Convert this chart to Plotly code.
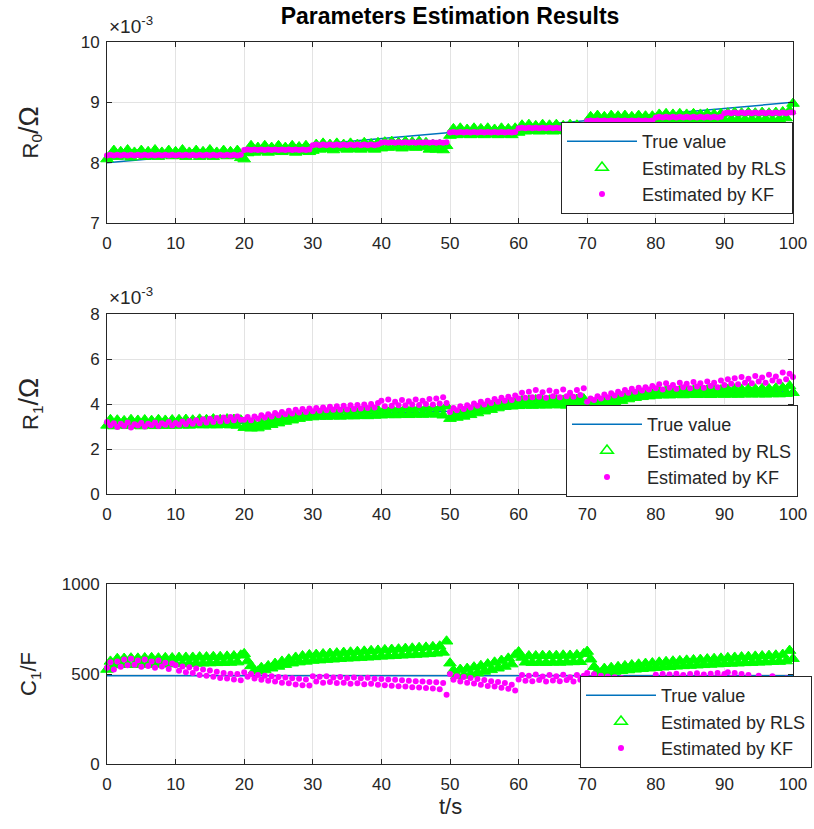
import numpy as np
import plotly.graph_objects as go

DT = 0.5  # estimator output period, s

# ---------------- true parameters (breakpoints) ----------------
r0_true_t = [0, 100]
r0_true = [8.0, 9.0]                      # x1e-3 Ohm
r1_true_t = [0, 20, 22, 30, 50, 58, 70, 80, 100]
r1_true = [3.15, 3.15, 3.05, 3.5, 3.68, 4.0, 4.05, 4.48, 4.55]   # x1e-3 Ohm
c1_true_t = [0, 100]
c1_true = [490, 490]                      # F

# ---------------- R0 estimates (x1e-3 Ohm), one value every 0.5 s ----------------
r0_rls = [
    8.06, 8.12, 8.20, 8.10, 8.18, 8.12, 8.21, 8.09, 8.17, 8.13, 8.20, 8.10, 8.18, 8.12, 8.21, 8.10, 8.17, 8.13, 8.20, 8.11,
    8.18, 8.12, 8.21, 8.10, 8.17, 8.13, 8.20, 8.10, 8.18, 8.12, 8.21, 8.10, 8.17, 8.13, 8.20, 8.11, 8.18, 8.12, 8.20, 8.08,
    8.06, 8.16, 8.28, 8.17, 8.25, 8.19, 8.28, 8.17, 8.25, 8.19, 8.28, 8.18, 8.25, 8.20, 8.28, 8.17, 8.26, 8.19, 8.28, 8.18,
    8.20, 8.30, 8.22, 8.32, 8.23, 8.30, 8.21, 8.32, 8.24, 8.30, 8.22, 8.32, 8.23, 8.30, 8.22, 8.33, 8.24, 8.31, 8.22, 8.33,
    8.24, 8.34, 8.25, 8.35, 8.26, 8.33, 8.24, 8.35, 8.26, 8.34, 8.25, 8.35, 8.26, 8.33, 8.22, 8.30, 8.22, 8.30, 8.21, 8.28,
    8.45, 8.56, 8.46, 8.57, 8.47, 8.55, 8.46, 8.57, 8.47, 8.56, 8.46, 8.57, 8.48, 8.55, 8.46, 8.57, 8.47, 8.56, 8.46, 8.57,
    8.50, 8.62, 8.52, 8.63, 8.53, 8.61, 8.52, 8.63, 8.53, 8.62, 8.52, 8.63, 8.53, 8.61, 8.52, 8.63, 8.53, 8.62, 8.48, 8.55,
    8.64, 8.76, 8.66, 8.78, 8.67, 8.76, 8.66, 8.78, 8.67, 8.77, 8.66, 8.78, 8.67, 8.76, 8.66, 8.78, 8.67, 8.77, 8.65, 8.77,
    8.68, 8.80, 8.70, 8.81, 8.71, 8.80, 8.70, 8.81, 8.71, 8.80, 8.70, 8.81, 8.71, 8.80, 8.70, 8.81, 8.71, 8.80, 8.70, 8.81,
    8.71, 8.82, 8.72, 8.83, 8.72, 8.82, 8.71, 8.83, 8.72, 8.82, 8.71, 8.83, 8.72, 8.82, 8.71, 8.83, 8.72, 8.84, 8.74, 8.86,
    8.98,
]
r0_kf = [
    8.12, 8.13, 8.12, 8.13, 8.12, 8.13, 8.12, 8.13, 8.12, 8.13, 8.12, 8.13, 8.12, 8.13, 8.12, 8.13, 8.12, 8.13, 8.12, 8.13,
    8.12, 8.13, 8.12, 8.13, 8.12, 8.13, 8.12, 8.13, 8.12, 8.13, 8.12, 8.13, 8.12, 8.13, 8.12, 8.13, 8.12, 8.13, 8.12, 8.13,
    8.21, 8.22, 8.21, 8.22, 8.21, 8.22, 8.21, 8.22, 8.21, 8.22, 8.21, 8.22, 8.21, 8.22, 8.21, 8.22, 8.21, 8.22, 8.21, 8.22,
    8.29, 8.30, 8.29, 8.30, 8.29, 8.30, 8.29, 8.30, 8.29, 8.30, 8.29, 8.30, 8.29, 8.30, 8.29, 8.30, 8.29, 8.30, 8.29, 8.30,
    8.33, 8.34, 8.33, 8.34, 8.33, 8.34, 8.33, 8.34, 8.33, 8.34, 8.33, 8.34, 8.33, 8.34, 8.33, 8.34, 8.33, 8.34, 8.33, 8.34,
    8.50, 8.51, 8.50, 8.51, 8.50, 8.51, 8.50, 8.51, 8.50, 8.51, 8.50, 8.51, 8.50, 8.51, 8.50, 8.51, 8.50, 8.51, 8.50, 8.51,
    8.57, 8.58, 8.57, 8.58, 8.57, 8.58, 8.57, 8.58, 8.57, 8.58, 8.57, 8.58, 8.57, 8.58, 8.57, 8.58, 8.57, 8.58, 8.57, 8.58,
    8.69, 8.70, 8.69, 8.70, 8.69, 8.70, 8.69, 8.70, 8.69, 8.70, 8.69, 8.70, 8.69, 8.70, 8.69, 8.70, 8.69, 8.70, 8.69, 8.70,
    8.75, 8.76, 8.75, 8.76, 8.75, 8.76, 8.75, 8.76, 8.75, 8.76, 8.75, 8.76, 8.75, 8.76, 8.75, 8.76, 8.75, 8.76, 8.75, 8.76,
    8.82, 8.83, 8.82, 8.83, 8.82, 8.83, 8.82, 8.83, 8.82, 8.83, 8.82, 8.83, 8.82, 8.83, 8.82, 8.83, 8.82, 8.83, 8.82, 8.83,
    8.83,
]

# ---------------- R1 estimates (x1e-3 Ohm) ----------------
r1_rls = [
    3.05, 3.30, 3.02, 3.28, 3.06, 3.25, 3.03, 3.30, 3.05, 3.27, 3.02, 3.29, 3.06, 3.26, 3.03, 3.30, 3.05, 3.27, 3.04, 3.29,
    3.05, 3.30, 3.06, 3.31, 3.05, 3.28, 3.08, 3.32, 3.06, 3.30, 3.07, 3.33, 3.06, 3.30, 3.08, 3.33, 3.06, 3.31, 3.05, 3.28,
    2.95, 3.12, 2.92, 3.08, 2.93, 3.15, 3.00, 3.22, 3.08, 3.30, 3.15, 3.38, 3.22, 3.45, 3.28, 3.50, 3.35, 3.55, 3.40, 3.60,
    3.42, 3.66, 3.45, 3.68, 3.44, 3.70, 3.46, 3.68, 3.45, 3.72, 3.47, 3.70, 3.46, 3.73, 3.48, 3.70, 3.47, 3.74, 3.49, 3.72,
    3.50, 3.75, 3.52, 3.78, 3.51, 3.76, 3.53, 3.80, 3.52, 3.78, 3.54, 3.82, 3.53, 3.80, 3.55, 3.84, 3.54, 3.82, 3.50, 3.90,
    3.35, 3.55, 3.40, 3.62, 3.45, 3.68, 3.52, 3.76, 3.60, 3.84, 3.68, 3.92, 3.75, 3.98, 3.82, 4.05, 3.88, 4.10, 3.90, 4.12,
    3.92, 4.15, 3.94, 4.16, 3.93, 4.18, 3.95, 4.15, 3.94, 4.17, 3.96, 4.18, 3.95, 4.16, 3.94, 4.18, 3.96, 4.20, 3.98, 4.22,
    3.82, 4.00, 3.85, 4.05, 3.92, 4.12, 4.00, 4.20, 4.08, 4.28, 4.15, 4.35, 4.22, 4.42, 4.28, 4.48, 4.32, 4.52, 4.35, 4.55,
    4.38, 4.58, 4.40, 4.60, 4.39, 4.62, 4.41, 4.60, 4.40, 4.63, 4.42, 4.61, 4.41, 4.64, 4.42, 4.62, 4.41, 4.64, 4.43, 4.62,
    4.42, 4.64, 4.43, 4.66, 4.42, 4.65, 4.44, 4.67, 4.43, 4.66, 4.44, 4.68, 4.43, 4.67, 4.45, 4.70, 4.44, 4.72, 4.46, 4.80,
    4.50,
]
r1_kf = [
    3.20, 3.05, 3.15, 2.98, 3.12, 3.02, 3.18, 2.96, 3.10, 3.04, 3.16, 3.00, 3.12, 3.06, 3.18, 3.02, 3.14, 3.08, 3.20, 3.04,
    3.16, 3.08, 3.22, 3.10, 3.25, 3.12, 3.28, 3.15, 3.32, 3.18, 3.35, 3.20, 3.38, 3.22, 3.40, 3.25, 3.42, 3.28, 3.45, 3.30,
    3.30, 3.42, 3.28, 3.45, 3.35, 3.50, 3.40, 3.55, 3.45, 3.60, 3.50, 3.65, 3.55, 3.70, 3.58, 3.75, 3.62, 3.78, 3.65, 3.80,
    3.68, 3.82, 3.70, 3.85, 3.72, 3.88, 3.74, 3.90, 3.75, 3.92, 3.76, 3.95, 3.78, 3.96, 3.80, 3.98, 3.82, 4.00, 3.84, 4.05,
    4.15, 3.90, 4.20, 3.92, 4.10, 3.95, 4.18, 3.94, 4.12, 3.98, 4.20, 3.96, 4.15, 4.00, 4.22, 3.98, 4.25, 4.02, 4.30, 4.05,
    3.65, 3.82, 3.72, 3.90, 3.78, 3.95, 3.85, 4.02, 3.92, 4.10, 3.98, 4.15, 4.05, 4.22, 4.10, 4.28, 4.15, 4.32, 4.18, 4.38,
    4.25, 4.50, 4.28, 4.55, 4.30, 4.62, 4.32, 4.52, 4.28, 4.60, 4.35, 4.55, 4.30, 4.65, 4.35, 4.50, 4.32, 4.62, 4.40, 4.70,
    4.10, 4.25, 4.18, 4.35, 4.25, 4.42, 4.30, 4.48, 4.38, 4.55, 4.45, 4.62, 4.50, 4.68, 4.55, 4.72, 4.60, 4.75, 4.65, 4.80,
    4.70, 4.88, 4.65, 4.92, 4.72, 4.85, 4.68, 4.95, 4.75, 4.90, 4.70, 4.98, 4.78, 4.92, 4.72, 5.00, 4.80, 4.95, 4.75, 5.05,
    4.85, 5.10, 4.90, 5.15, 4.88, 5.20, 4.95, 5.12, 4.92, 5.25, 5.00, 5.18, 4.95, 5.30, 5.05, 5.22, 5.00, 5.40, 5.10, 5.35,
    5.20,
]

# ---------------- C1 estimates (F) ----------------
c1_rls = [
    525, 570, 550, 585, 552, 586, 553, 588, 552, 587, 554, 589, 553, 590, 555, 588, 554, 590, 556, 589,
    556, 591, 557, 592, 558, 592, 559, 594, 560, 594, 561, 596, 562, 596, 563, 598, 564, 600, 566, 604,
    612, 572, 545, 520, 515, 535, 522, 545, 532, 558, 542, 570, 552, 582, 560, 592, 566, 600, 570, 606,
    575, 608, 577, 611, 580, 614, 582, 616, 585, 619, 587, 621, 589, 624, 591, 626, 593, 629, 595, 631,
    598, 634, 600, 636, 602, 638, 604, 641, 606, 643, 608, 646, 610, 648, 612, 651, 615, 654, 620, 682,
    560, 520, 490, 525, 492, 530, 498, 538, 505, 546, 514, 555, 523, 565, 532, 575, 542, 587, 555, 605,
    622, 592, 565, 600, 563, 600, 564, 602, 563, 602, 565, 602, 564, 604, 566, 603, 567, 606, 568, 612,
    625, 582, 540, 515, 505, 530, 510, 535, 514, 540, 518, 545, 522, 550, 526, 554, 529, 558, 532, 561,
    535, 565, 538, 568, 540, 571, 543, 573, 545, 576, 547, 578, 549, 580, 551, 583, 553, 585, 555, 587,
    557, 590, 559, 592, 560, 594, 562, 596, 563, 598, 565, 600, 566, 602, 568, 604, 569, 608, 572, 630,
    585,
]
c1_kf = [
    535, 565, 525, 570, 540, 580, 548, 585, 552, 575, 540, 580, 545, 570, 535, 575, 542, 562, 528, 558,
    548, 518, 542, 510, 538, 505, 530, 495, 525, 490, 520, 485, 512, 478, 505, 475, 502, 470, 500, 465,
    510, 485, 500, 475, 495, 468, 490, 462, 487, 458, 483, 452, 480, 448, 476, 442, 473, 438, 470, 436,
    488, 458, 485, 452, 487, 455, 480, 450, 484, 452, 478, 446, 481, 449, 476, 443, 479, 446, 473, 440,
    472, 438, 470, 435, 468, 432, 465, 430, 463, 427, 460, 425, 458, 422, 456, 420, 454, 415, 450, 385,
    500, 468, 488, 458, 484, 452, 478, 447, 472, 440, 466, 434, 460, 430, 455, 424, 450, 418, 440, 408,
    470, 495, 462, 490, 460, 497, 466, 486, 458, 494, 464, 488, 460, 496, 466, 482, 458, 494, 468, 490,
    505, 475, 498, 468, 490, 462, 486, 458, 482, 452, 478, 450, 473, 446, 470, 442, 466, 440, 463, 436,
    496, 470, 500, 474, 497, 471, 502, 476, 495, 469, 500, 473, 504, 478, 497, 471, 502, 476, 506, 480,
    500, 510, 478, 505, 474, 500, 468, 495, 474, 462, 490, 458, 472, 462, 488, 452, 470, 458, 475, 450,
    455,
]

for series in (r0_rls, r0_kf, r1_rls, r1_kf, c1_rls, c1_kf):
    assert len(series) == 201, len(series)

t = np.arange(201) * DT

# ---------------- styling ----------------
FONT = "Liberation Sans, Arial, sans-serif"
INK = "#262626"
BLUE = "#0072BD"
GREEN = "#00FF00"
MAGENTA = "#FF00FF"

W, H = 814, 829
ML, MR, MT, MB = 107, 21, 42, 65
PH = H - MT - MB  # plot-area height in px


def py(y_px):
    """Convert a page y pixel to paper coordinates."""
    return (H - MB - y_px) / PH


def px(x_px):
    return (x_px - ML) / (W - ML - MR)


OHM = '<span style="font-size:27px">/Ω</span>'

panels = [
    dict(true_t=r0_true_t, true=r0_true, rls=r0_rls, kf=r0_kf, rng=[7, 10], dtick=1,
         top=42, bottom=223, legend="legend", label="R<sub>0</sub>" + OHM,
         leg_left=561, leg_bottom=214),
    dict(true_t=r1_true_t, true=r1_true, rls=r1_rls, kf=r1_kf, rng=[0, 8], dtick=2,
         top=314, bottom=494, legend="legend2", label="R<sub>1</sub>" + OHM,
         leg_left=566, leg_bottom=497),
    dict(true_t=c1_true_t, true=c1_true, rls=c1_rls, kf=c1_kf, rng=[0, 1000], dtick=500,
         top=584, bottom=764, legend="legend3", label="C<sub>1</sub>/F",
         leg_left=580, leg_bottom=768),
]

fig = go.Figure()
layout = dict(
    width=W, height=H,
    margin=dict(l=ML, r=MR, t=MT, b=MB, autoexpand=False),
    paper_bgcolor="white", plot_bgcolor="white",
    font=dict(family=FONT, color=INK, size=17),
    showlegend=True,
    title=dict(text="<b>Parameters Estimation Results</b>", x=0.5, xanchor="center",
               xref="paper", y=1 - 16 / H, yref="container", yanchor="middle",
               font=dict(size=23, color="#000000", family=FONT)),
)

annotations = []

for i, p in enumerate(panels):
    k = "" if i == 0 else str(i + 1)
    xa, ya = "x" + k, "y" + k
    fig.add_trace(go.Scatter(x=p["true_t"], y=p["true"], mode="lines", name="True value",
                             line=dict(color=BLUE, width=1.5), xaxis=xa, yaxis=ya,
                             legend=p["legend"]))
    # RLS estimates: dense triangles merge into a solid band
    fig.add_trace(go.Scatter(x=t, y=p["rls"], mode="markers", name="Estimated by RLS",
                             marker=dict(symbol="triangle-up", size=11, color=GREEN,
                                         line=dict(width=1, color=GREEN)),
                             cliponaxis=False, xaxis=xa, yaxis=ya, showlegend=False))
    # legend key for the RLS series (open triangle)
    fig.add_trace(go.Scatter(x=[None], y=[None], mode="markers", name="Estimated by RLS",
                             marker=dict(symbol="triangle-up-open", size=11, color=GREEN,
                                         line=dict(width=1.5, color=GREEN)),
                             xaxis=xa, yaxis=ya, legend=p["legend"]))
    fig.add_trace(go.Scatter(x=t, y=p["kf"], mode="markers", name="Estimated by KF",
                             marker=dict(symbol="circle", size=6, color=MAGENTA),
                             cliponaxis=False, xaxis=xa, yaxis=ya, legend=p["legend"]))

    axis_common = dict(showline=True, linecolor=INK, linewidth=1, mirror="ticks",
                       ticks="inside", ticklen=5, tickcolor=INK, tickwidth=1,
                       showgrid=True, gridcolor="#E3E3E3", gridwidth=1, zeroline=False,
                       tickfont=dict(size=17, color=INK, family=FONT))
    layout["xaxis" + k] = dict(axis_common, range=[0, 100], dtick=10, tick0=0,
                               domain=[0, 1], anchor=ya, ticklabelstandoff=5)
    layout["yaxis" + k] = dict(axis_common, range=p["rng"], dtick=p["dtick"], tick0=0,
                               domain=[py(p["bottom"]), py(p["top"])], anchor=xa,
                               ticklabelstandoff=3)

    layout[p["legend"]] = dict(
        x=px(p["leg_left"]), y=py(p["leg_bottom"]), xanchor="left", yanchor="bottom",
        xref="paper", yref="paper",
        bgcolor="white", bordercolor=INK, borderwidth=1,
        font=dict(size=18, color=INK, family=FONT), itemwidth=70,
        tracegroupgap=0,
    )

    annotations.append(dict(text=p["label"], x=px(30), y=py((p["top"] + p["bottom"]) / 2),
                            xref="paper", yref="paper", xanchor="center", yanchor="middle",
                            textangle=-90, showarrow=False,
                            font=dict(size=22, color=INK, family=FONT)))

# exponent multipliers above the two resistance axes
for y_px in (25, 296):
    annotations.append(dict(text="×10<sup>-3</sup>", x=0, y=py(y_px), xref="paper", yref="paper",
                            xanchor="left", yanchor="middle", showarrow=False,
                            font=dict(size=19, color=INK, family=FONT)))

annotations.append(dict(text="t/s", x=0.5, y=py(806), xref="paper", yref="paper",
                        xanchor="center", yanchor="middle", showarrow=False,
                        font=dict(size=22, color=INK, family=FONT)))

layout["annotations"] = annotations
fig.update_layout(**layout)

fig.write_html("out.html")
